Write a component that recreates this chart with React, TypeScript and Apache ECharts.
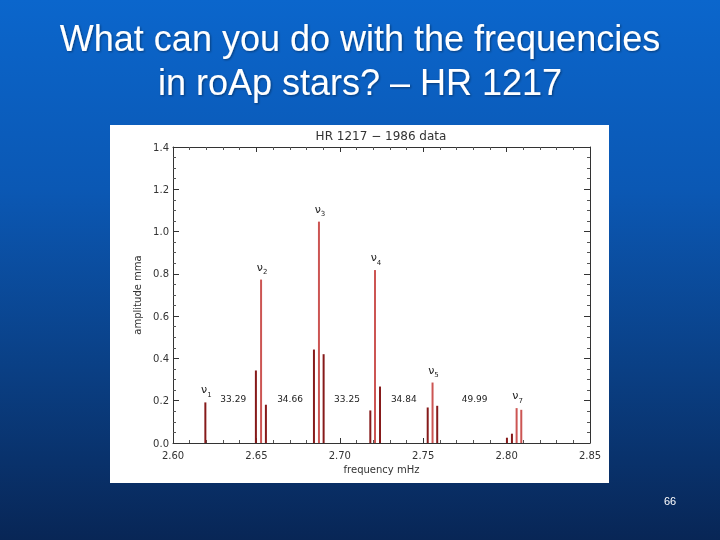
import React, { useEffect, useRef } from "react";
import * as echarts from "echarts";

// ---- data ----
const modeNames = ["1", "2", "3", "4", "5", "7"];
const modeFreq = [2.6194, 2.6528, 2.6875, 2.7211, 2.7556, 2.806];
const modeAmp = [0.192, 0.773, 1.047, 0.818, 0.286, 0.165];

const sideFreq = [2.6497, 2.6557, 2.6845, 2.6903, 2.7183, 2.7241, 2.7527, 2.7584, 2.8002, 2.8032, 2.8088];
const sideAmp = [0.343, 0.181, 0.442, 0.42, 0.154, 0.267, 0.168, 0.176, 0.025, 0.044, 0.157];

const spacingValues = ["33.29", "34.66", "33.25", "34.84", "49.99"];

const xTicks = { min: 2.6, max: 2.85, step: 0.05 };
const yTicks = { min: 0, max: 1.4, step: 0.2 };

const slideTitle = "What can you do with the frequencies\nin roAp stars? – HR 1217";
const chartTitle = "HR 1217 − 1986 data";
const pageNumber = "66";

// ---- styles ----
const LIGHT = "#cc5553";
const DARK = "#861a1a";
const AXIS = "#333333";
const darkModeIdx = new Set([0]);
const lightSideIdx = new Set([10]);
const spacingLevel = 0.21;

export default function App() {
  const ref = useRef<HTMLDivElement>(null);

  useEffect(() => {
    if (!ref.current) return;
    const chart = echarts.init(ref.current, null, { renderer: "svg" });

    const modeData = modeFreq.map((f, i) => [f, modeAmp[i]]);
    const sideData = sideFreq.map((f, i) => [f, sideAmp[i]]);
    const spacingData = spacingValues.map((_, i) => [
      (modeFreq[i] + modeFreq[i + 1]) / 2,
      spacingLevel,
    ]);

    const axisLabelStyle = {
      fontSize: 10,
      color: AXIS,
      fontFamily: "DejaVu Sans",
    };

    const option: any = {
      animation: false,
      title: [
        {
          text: slideTitle,
          left: "center",
          top: 11,
          textStyle: {
            color: "#ffffff",
            fontSize: 36,
            lineHeight: 44,
            fontWeight: "normal",
            fontFamily: "Liberation Sans",
            textShadowColor: "rgba(0,0,0,0.4)",
            textShadowBlur: 2,
            textShadowOffsetX: 1,
            textShadowOffsetY: 1,
          },
        },
      ],
      graphic: [
        {
          type: "rect",
          z: -20,
          shape: { x: 0, y: 0, width: 720, height: 540 },
          style: {
            fill: {
              type: "linear",
              x: 0,
              y: 0,
              x2: 0,
              y2: 1,
              colorStops: [
                { offset: 0, color: "#0b66cc" },
                { offset: 0.35, color: "#0b58b4" },
                { offset: 0.7, color: "#0a3e82" },
                { offset: 1, color: "#082656" },
              ],
            },
          },
        },
        {
          type: "rect",
          z: -19,
          shape: { x: 110, y: 125, width: 499, height: 358 },
          style: { fill: "#ffffff" },
        },
        {
          type: "text",
          z: 10,
          x: 381,
          y: 136,
          style: {
            text: chartTitle,
            fill: AXIS,
            fontSize: 12,
            fontFamily: "DejaVu Sans",
            align: "center",
            verticalAlign: "middle",
          },
        },
        {
          type: "text",
          z: 10,
          x: 670,
          y: 501,
          style: {
            text: pageNumber,
            fill: "#ffffff",
            fontSize: 11,
            fontFamily: "Liberation Sans",
            align: "center",
            verticalAlign: "middle",
          },
        },
      ],
      grid: { left: 173, right: 130, top: 147, bottom: 97 },
      xAxis: [
        {
          type: "value",
          min: xTicks.min,
          max: xTicks.max,
          interval: xTicks.step,
          position: "bottom",
          axisLine: { show: true, onZero: false, lineStyle: { color: AXIS } },
          axisTick: { show: true, inside: true, length: 5, lineStyle: { color: AXIS } },
          minorTick: { show: true, splitNumber: 5, length: 3, lineStyle: { color: "#555" } },
          splitLine: { show: false },
          minorSplitLine: { show: false },
          axisLabel: { ...axisLabelStyle, margin: 7, formatter: (v: number) => v.toFixed(2) },
          name: "frequency mHz",
          nameLocation: "middle",
          nameGap: 19,
          nameTextStyle: { ...axisLabelStyle },
        },
        {
          type: "value",
          min: xTicks.min,
          max: xTicks.max,
          interval: xTicks.step,
          position: "top",
          axisLine: { show: true, onZero: false, lineStyle: { color: AXIS } },
          axisTick: { show: true, inside: true, length: 5, lineStyle: { color: AXIS } },
          minorTick: { show: true, splitNumber: 5, length: 3, lineStyle: { color: "#555" } },
          splitLine: { show: false },
          axisLabel: { show: false },
        },
      ],
      yAxis: [
        {
          type: "value",
          min: yTicks.min,
          max: yTicks.max,
          interval: yTicks.step,
          position: "left",
          axisLine: { show: true, onZero: false, lineStyle: { color: AXIS } },
          axisTick: { show: true, inside: true, length: 6, lineStyle: { color: AXIS } },
          minorTick: { show: true, splitNumber: 4, length: 3, lineStyle: { color: "#555" } },
          splitLine: { show: false },
          axisLabel: { ...axisLabelStyle, margin: 4, formatter: (v: number) => v.toFixed(1) },
          name: "amplitude mma",
          nameLocation: "middle",
          nameGap: 25,
          nameRotate: 90,
          nameTextStyle: { ...axisLabelStyle },
        },
        {
          type: "value",
          min: yTicks.min,
          max: yTicks.max,
          interval: yTicks.step,
          position: "right",
          axisLine: { show: true, onZero: false, lineStyle: { color: AXIS } },
          axisTick: { show: true, inside: true, length: 6, lineStyle: { color: AXIS } },
          minorTick: { show: true, splitNumber: 4, length: 3, lineStyle: { color: "#555" } },
          splitLine: { show: false },
          axisLabel: { show: false },
        },
      ],
      series: [
        {
          type: "custom",
          name: "sidelobes",
          xAxisIndex: 0,
          yAxisIndex: 0,
          encode: { x: 0, y: 1 },
          data: sideData,
          renderItem: (params: any, api: any) => {
            const top = api.coord([api.value(0), api.value(1)]);
            const base = api.coord([api.value(0), 0]);
            return {
              type: "line",
              shape: { x1: top[0], y1: top[1], x2: base[0], y2: base[1] },
              style: {
                stroke: lightSideIdx.has(params.dataIndex) ? LIGHT : DARK,
                lineWidth: 2,
              },
            };
          },
        },
        {
          type: "custom",
          name: "modes",
          xAxisIndex: 0,
          yAxisIndex: 0,
          encode: { x: 0, y: 1 },
          data: modeData,
          renderItem: (params: any, api: any) => {
            const top = api.coord([api.value(0), api.value(1)]);
            const base = api.coord([api.value(0), 0]);
            return {
              type: "group",
              children: [
                {
                  type: "line",
                  shape: { x1: top[0], y1: top[1], x2: base[0], y2: base[1] },
                  style: {
                    stroke: darkModeIdx.has(params.dataIndex) ? DARK : LIGHT,
                    lineWidth: 2,
                  },
                },
                {
                  type: "text",
                  x: top[0] + 1,
                  y: top[1] - 4,
                  style: {
                    text: "{n|ν}{s|" + modeNames[params.dataIndex] + "}",
                    align: "center",
                    verticalAlign: "bottom",
                    rich: {
                      n: { fontSize: 11, fontFamily: "DejaVu Sans", fill: "#222", lineHeight: 14, verticalAlign: "top" },
                      s: { fontSize: 7, fontFamily: "DejaVu Sans", fill: "#222", lineHeight: 14, verticalAlign: "bottom" },
                    },
                  },
                },
              ],
            };
          },
        },
        {
          type: "custom",
          name: "spacings",
          xAxisIndex: 0,
          yAxisIndex: 0,
          encode: { x: 0, y: 1 },
          data: spacingData,
          renderItem: (params: any, api: any) => {
            const p = api.coord([api.value(0), api.value(1)]);
            return {
              type: "text",
              x: p[0],
              y: p[1],
              style: {
                text: spacingValues[params.dataIndex],
                fill: "#222",
                fontSize: 9,
                fontFamily: "DejaVu Sans",
                align: "center",
                verticalAlign: "middle",
              },
            };
          },
        },
      ],
    };

    chart.setOption(option);
    return () => chart.dispose();
  }, []);

  return (
    <div
      ref={ref}
      style={{ position: "fixed", left: 0, top: 0, width: 720, height: 540 }}
    />
  );
}
